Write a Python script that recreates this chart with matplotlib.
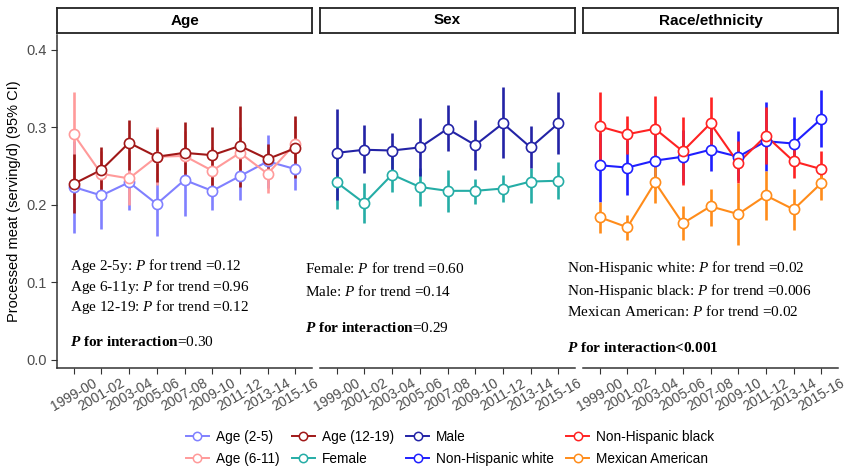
import numpy as np
import matplotlib
matplotlib.use("Agg")
import matplotlib.pyplot as plt
from matplotlib.lines import Line2D

plt.rcParams['font.family'] = ['Liberation Sans', 'DejaVu Sans']
plt.rcParams['mathtext.fontset'] = 'custom'
plt.rcParams['mathtext.rm'] = 'Liberation Serif'
plt.rcParams['mathtext.it'] = 'Liberation Serif:italic'
plt.rcParams['mathtext.bf'] = 'Liberation Serif:bold'
plt.rcParams['mathtext.bfit'] = 'Liberation Serif:bold:italic'

years = ['1999-00', '2001-02', '2003-04', '2005-06', '2007-08',
         '2009-10', '2011-12', '2013-14', '2015-16']

# Age panel
age25 = [0.223, 0.212, 0.229, 0.201, 0.232, 0.218, 0.237, 0.256, 0.246]
age25_lo = [0.164, 0.169, 0.193, 0.160, 0.185, 0.193, 0.206, 0.222, 0.219]
age25_hi = [0.282, 0.255, 0.265, 0.241, 0.279, 0.243, 0.268, 0.290, 0.273]
age611 = [0.291, 0.240, 0.234, 0.262, 0.263, 0.244, 0.267, 0.240, 0.279]
age611_lo = [0.235, 0.210, 0.200, 0.225, 0.230, 0.215, 0.235, 0.215, 0.245]
age611_hi = [0.346, 0.270, 0.270, 0.300, 0.295, 0.275, 0.300, 0.265, 0.310]
age1219 = [0.227, 0.245, 0.280, 0.262, 0.267, 0.264, 0.276, 0.259, 0.273]
age1219_lo = [0.190, 0.215, 0.245, 0.230, 0.225, 0.222, 0.223, 0.240, 0.235]
age1219_hi = [0.265, 0.275, 0.310, 0.298, 0.307, 0.300, 0.328, 0.278, 0.315]

# Sex panel
female = [0.229, 0.202, 0.239, 0.223, 0.218, 0.218, 0.221, 0.230, 0.231]
female_lo = [0.194, 0.176, 0.216, 0.199, 0.191, 0.201, 0.204, 0.202, 0.208]
female_hi = [0.262, 0.228, 0.262, 0.247, 0.245, 0.233, 0.239, 0.247, 0.255]
male = [0.267, 0.271, 0.270, 0.274, 0.298, 0.277, 0.305, 0.274, 0.305]
male_lo = [0.206, 0.241, 0.245, 0.237, 0.269, 0.245, 0.260, 0.248, 0.266]
male_hi = [0.323, 0.303, 0.292, 0.312, 0.329, 0.309, 0.352, 0.302, 0.346]

# Race/ethnicity panel
white = [0.251, 0.248, 0.257, 0.262, 0.271, 0.262, 0.282, 0.279, 0.311]
white_lo = [0.204, 0.213, 0.222, 0.228, 0.243, 0.232, 0.243, 0.250, 0.274]
white_hi = [0.292, 0.283, 0.292, 0.296, 0.300, 0.295, 0.332, 0.313, 0.348]
black = [0.301, 0.291, 0.298, 0.269, 0.305, 0.254, 0.289, 0.256, 0.246]
black_lo = [0.250, 0.266, 0.260, 0.226, 0.268, 0.228, 0.252, 0.234, 0.225]
black_hi = [0.345, 0.315, 0.340, 0.313, 0.339, 0.282, 0.326, 0.272, 0.269]
mex = [0.184, 0.171, 0.229, 0.176, 0.198, 0.188, 0.212, 0.194, 0.228]
mex_lo = [0.164, 0.155, 0.202, 0.155, 0.173, 0.148, 0.181, 0.167, 0.206]
mex_hi = [0.204, 0.187, 0.255, 0.198, 0.221, 0.228, 0.243, 0.220, 0.241]

col = {
    'Age (2-5)': '#8080FF', 'Age (6-11)': '#FF9A9A', 'Age (12-19)': '#A01818',
    'Female': '#25ADA6', 'Male': '#2323A6', 'Non-Hispanic white': '#1F1FFF',
    'Non-Hispanic black': '#FF2222', 'Mexican American': '#FF8C1A',
}

panels = [
    ('Age', [('Age (2-5)', age25, age25_lo, age25_hi),
             ('Age (6-11)', age611, age611_lo, age611_hi),
             ('Age (12-19)', age1219, age1219_lo, age1219_hi)]),
    ('Sex', [('Female', female, female_lo, female_hi),
             ('Male', male, male_lo, male_hi)]),
    ('Race/ethnicity', [('Non-Hispanic white', white, white_lo, white_hi),
                        ('Non-Hispanic black', black, black_lo, black_hi),
                        ('Mexican American', mex, mex_lo, mex_hi)]),
]

# (x, y in axes fraction, text, bold)
notes = [
    [(0.05, 0.306, r'Age 2-5y: $\mathit{P}$ for trend =0.12', False),
     (0.05, 0.243, r'Age 6-11y: $\mathit{P}$ for trend =0.96', False),
     (0.05, 0.183, r'Age 12-19: $\mathit{P}$ for trend =0.12', False),
     (0.05, 0.078, r'$\mathbfit{P}$$\mathbf{\ for\ interaction}$=0.30', False)],
    [(-0.059, 0.300, r'Female: $\mathit{P}$ for trend =0.60', False),
     (-0.059, 0.231, r'Male: $\mathit{P}$ for trend =0.14', False),
     (-0.059, 0.120, r'$\mathbfit{P}$$\mathbf{\ for\ interaction}$=0.29', False)],
    [(-0.063, 0.300, r'Non-Hispanic white: $\mathit{P}$ for trend =0.02', False),
     (-0.063, 0.231, r'Non-Hispanic black: $\mathit{P}$ for trend =0.006', False),
     (-0.063, 0.171, r'Mexican American: $\mathit{P}$ for trend =0.02', False),
     (-0.063, 0.060, r'$\mathbfit{P}$ for interaction<0.001', True)],
]

W, H = 847, 470
fig = plt.figure(figsize=(W / 100, H / 100), dpi=100)
lefts = [57, 320, 583]
pw = 255
top, bot = 35, 368
x = np.arange(len(years))
grey = '#4D4D4D'

for i, (title, series) in enumerate(panels):
    ax = fig.add_axes([lefts[i] / W, 1 - bot / H, pw / W, (bot - top) / H])
    for name, v, lo, hi in series:
        ax.vlines(x, lo, hi, color=col[name], lw=1.9, zorder=1)
    for name, v, lo, hi in series:
        ax.plot(x, v, color=col[name], lw=1.5, zorder=2)
    for name, v, lo, hi in series:
        ax.plot(x, v, 'o', ms=7.3, mfc='white', mec=col[name], mew=1.2, zorder=3)
    ax.set_xlim(-0.6, 8.6)
    ax.set_ylim(-0.0105, 0.419)
    ax.set_xticks(x)
    ax.set_xticklabels(years, rotation=30, ha='center', fontsize=10, color=grey)
    ax.tick_params(axis='x', length=4, color='#333333', width=0.8, pad=2)
    for s in ['top', 'right']:
        ax.spines[s].set_visible(False)
    ax.spines['bottom'].set_color('#333333')
    ax.spines['bottom'].set_linewidth(1.1)
    if i == 0:
        ax.set_yticks([0.0, 0.1, 0.2, 0.3, 0.4])
        ax.set_yticklabels(['0.0', '0.1', '0.2', '0.3', '0.4'], fontsize=10.5, color=grey)
        ax.tick_params(axis='y', length=4, color='#333333', width=0.8)
        ax.spines['left'].set_color('#333333')
        ax.spines['left'].set_linewidth(1.1)
        ax.set_ylabel('Processed meat (serving/d) (95% CI)', fontsize=10.5, labelpad=4)
    else:
        ax.spines['left'].set_visible(False)
        ax.set_yticks([])
    for tx, ty, s, b in notes[i]:
        ax.text(tx, ty, s, transform=ax.transAxes, fontsize=11,
                family='Liberation Serif', va='center', ha='left',
                fontweight='bold' if b else 'normal')

    # strip on top of each panel
    sax = fig.add_axes([lefts[i] / W, 1 - 33 / H, pw / W, 25 / H])
    sax.set_xticks([])
    sax.set_yticks([])
    for s in sax.spines.values():
        s.set_linewidth(1.3)
        s.set_color('#222222')
    sax.text(0.5, 0.5, title, ha='center', va='center', fontsize=11,
             fontweight='bold', transform=sax.transAxes)

order = ['Age (2-5)', 'Age (6-11)', 'Age (12-19)', 'Female', 'Male',
         'Non-Hispanic white', 'Non-Hispanic black', 'Mexican American']
handles = [Line2D([], [], color=col[n], lw=1.4, marker='o', ms=6, mfc='white',
                  mec=col[n], mew=1.1) for n in order]
fig.legend(handles, order, loc='center', bbox_to_anchor=(450 / W, 1 - 448 / H),
           ncol=4, frameon=False, fontsize=9.8, handlelength=1.7,
           handletextpad=0.5, columnspacing=0.9, labelspacing=0.6)

fig.savefig('out.png', dpi=100)
